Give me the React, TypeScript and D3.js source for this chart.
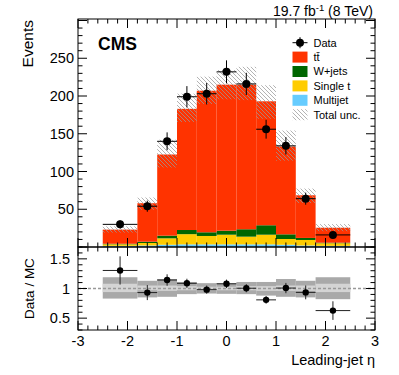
import React from "react";
import * as d3 from "d3";

// ---- data ----
const binEdges = [-2.5, -1.8, -1.4, -1.0, -0.6, -0.2, 0.2, 0.6, 1.0, 1.4, 1.8, 2.5];
const dataCounts = [30, 54, 140, 199, 203, 232, 216, 156, 134, 64, 16];
const multijet = [1.5, 2, 3, 3.5, 3.5, 3.5, 3.5, 3.5, 3, 2, 1.5];
const singleTop = [2.1, 3.3, 8.5, 13.5, 11.1, 12.8, 10.2, 12.8, 7.6, 7.3, 3.5];
const wJets = [0.7, 1.7, 3.5, 5.5, 4.9, 5.3, 9.8, 12.5, 6.2, 2.7, 0.7];
const ttbar = [18.7, 51, 107.5, 160.5, 187.5, 193.4, 191.5, 164.2, 116.2, 56.5, 19.8];
// relative total uncertainty (up / down) and inner (lighter) band
const uncUp = [0.19, 0.13, 0.16, 0.11, 0.09, 0.09, 0.11, 0.11, 0.16, 0.13, 0.19];
const uncDown = [0.17, 0.15, 0.14, 0.095, 0.085, 0.09, 0.095, 0.12, 0.14, 0.15, 0.18];
const innerUp = [0.08, 0.05, 0.05, 0.04, 0.03, 0.03, 0.04, 0.04, 0.05, 0.05, 0.08];
const innerDown = [0.06, 0.03, 0.04, 0.03, 0.03, 0.03, 0.03, 0.04, 0.04, 0.04, 0.06];

const xTickLabels = ["-3", "-2", "-1", "0", "1", "2", "3"];
const yTickLabels = ["50", "100", "150", "200", "250"];
const ratioTickLabels = ["0.5", "1", "1.5"];
const legendLabels = ["Data", "tt\u0304", "W+jets", "Single t", "Multijet", "Total unc."];

const COLORS: Record<string, string> = {
  multijet: "#66ccff",
  singleTop: "#ffcc00",
  wJets: "#006600",
  ttbar: "#ff3300",
};
const FONT = "'Liberation Sans', Arial, Helvetica, sans-serif";

export default function App() {
  const x = d3.scaleLinear().domain([-3, 3]).range([78, 375]);
  const y = d3.scaleLinear().domain([0, 302]).range([247, 19]);
  const yr = d3.scaleLinear().domain([0.3, 1.7]).range([330, 247]);

  const rows = binEdges.slice(0, -1).map((lo, i) => ({
    lo,
    hi: binEdges[i + 1],
    multijet: multijet[i],
    singleTop: singleTop[i],
    wJets: wJets[i],
    ttbar: ttbar[i],
  }));
  const keys = ["multijet", "singleTop", "wJets", "ttbar"];
  const stacked = d3.stack<any>().keys(keys)(rows);
  const mc = rows.map((r) => r.multijet + r.singleTop + r.wJets + r.ttbar);

  const L = 78, R = 375, T = 19, M = 247, B = 330;
  const maj = 9, mnr = 4.5;

  const xMinor = x.ticks(30);
  const xMajor = x.ticks(6);
  const yMinor = y.ticks(30).filter((v) => v <= 302);
  const yMajor = y.ticks(6).filter((v) => v > 0 && v < 300);
  const rMinor = yr.ticks(14);
  const rMajor = yr.ticks(3);

  const isMaj = (v: number) => Math.abs(v - Math.round(v)) < 1e-6;

  return (
    <svg
      width={399}
      height={375}
      style={{ position: "absolute", left: 0, top: 0, background: "#fff" }}
      fontFamily={FONT}
    >
      <defs>
        <pattern id="hatch" patternUnits="userSpaceOnUse" width={4} height={4}>
          <path d="M0,0 L4,4 M-1,3 L1,5 M3,-1 L5,1" stroke="#9a9a9a" strokeWidth={0.75} />
        </pattern>
        <clipPath id="clipRat">
          <rect x={L} y={M} width={R - L} height={B - M} />
        </clipPath>
      </defs>

      {/* ---- stacked histogram ---- */}
      <g>
        {stacked.map((layer) => (
          <g key={layer.key}>
            {layer.map((d, i) => (
              <rect
                key={i}
                x={x(rows[i].lo)}
                width={x(rows[i].hi) - x(rows[i].lo)}
                y={y(d[1])}
                height={Math.max(0, y(d[0]) - y(d[1]))}
                fill={COLORS[layer.key as string]}
              />
            ))}
          </g>
        ))}
        {/* total uncertainty band */}
        {rows.map((r, i) => (
          <rect
            key={"u" + i}
            x={x(r.lo)}
            width={x(r.hi) - x(r.lo)}
            y={y(mc[i] * (1 + uncUp[i]))}
            height={y(mc[i] * (1 - uncDown[i])) - y(mc[i] * (1 + uncUp[i]))}
            fill="url(#hatch)"
          />
        ))}
        {/* data */}
        {rows.map((r, i) => {
          const v = dataCounts[i];
          const e = Math.sqrt(v);
          const cx = x((r.lo + r.hi) / 2);
          return (
            <g key={"d" + i}>
              <line x1={x(r.lo)} x2={x(r.hi)} y1={y(v)} y2={y(v)} stroke="#000" strokeWidth={1} />
              <line x1={cx} x2={cx} y1={y(v + e)} y2={y(v - e)} stroke="#000" strokeWidth={1} />
              <circle cx={cx} cy={y(v)} r={4} fill="#000" />
            </g>
          );
        })}
      </g>

      {/* ---- ratio panel ---- */}
      <g clipPath="url(#clipRat)">
        {rows.map((r, i) => (
          <g key={"rb" + i}>
            <rect
              x={x(r.lo)}
              width={x(r.hi) - x(r.lo)}
              y={yr(1 + uncUp[i])}
              height={yr(1 - uncDown[i]) - yr(1 + uncUp[i])}
              fill="#a9a9a9"
            />
            <rect
              x={x(r.lo)}
              width={x(r.hi) - x(r.lo)}
              y={yr(1 + innerUp[i])}
              height={yr(1 - innerDown[i]) - yr(1 + innerUp[i])}
              fill="#d4d4d4"
            />
          </g>
        ))}
        <line x1={L} x2={R} y1={yr(1)} y2={yr(1)} stroke="#999" strokeWidth={1.3} strokeDasharray="3,2" />
        {rows.map((r, i) => {
          const rat = dataCounts[i] / mc[i];
          const e = Math.sqrt(dataCounts[i]) / mc[i];
          const cx = x((r.lo + r.hi) / 2);
          return (
            <g key={"rd" + i}>
              <line x1={x(r.lo)} x2={x(r.hi)} y1={yr(rat)} y2={yr(rat)} stroke="#222" strokeWidth={1} />
              <line x1={cx} x2={cx} y1={yr(rat + e)} y2={yr(rat - e)} stroke="#222" strokeWidth={1} />
              <circle cx={cx} cy={yr(rat)} r={3.2} fill="#000" />
            </g>
          );
        })}
      </g>

      {/* ---- frames and ticks ---- */}
      <g stroke="#000" strokeWidth={1} fill="none">
        <rect x={L} y={T} width={R - L} height={M - T} />
        <rect x={L} y={M} width={R - L} height={B - M} />
        {xMinor.map((v, i) => {
          const len = isMaj(v) ? maj : mnr;
          const xx = x(v);
          return (
            <g key={"xt" + i}>
              <line x1={xx} x2={xx} y1={T} y2={T + len} />
              <line x1={xx} x2={xx} y1={M} y2={M - len} />
              <line x1={xx} x2={xx} y1={M} y2={M + len} />
              <line x1={xx} x2={xx} y1={B} y2={B - len} />
            </g>
          );
        })}
        {yMinor.map((v, i) => {
          const len = v % 50 === 0 ? maj : mnr;
          const yy = y(v);
          return (
            <g key={"yt" + i}>
              <line x1={L} x2={L + len} y1={yy} y2={yy} />
              <line x1={R} x2={R - len} y1={yy} y2={yy} />
            </g>
          );
        })}
        {rMinor.map((v, i) => {
          const len = Math.abs(v * 2 - Math.round(v * 2)) < 1e-6 ? maj : mnr;
          const yy = yr(v);
          return (
            <g key={"rt" + i}>
              <line x1={L} x2={L + len} y1={yy} y2={yy} />
              <line x1={R} x2={R - len} y1={yy} y2={yy} />
            </g>
          );
        })}
      </g>

      {/* ---- tick labels ---- */}
      <g fontSize={14.5} fill="#000">
        {yMajor.map((v, i) => (
          <text key={"yl" + v} x={74} y={y(v)} dy="0.36em" textAnchor="end">
            {yTickLabels[i]}
          </text>
        ))}
        {rMajor.map((v, i) => (
          <text key={"rl" + v} x={70} y={yr(v)} dy="0.36em" textAnchor="end">
            {ratioTickLabels[i]}
          </text>
        ))}
        {xMajor.map((v, i) => (
          <text key={"xl" + v} x={x(v)} y={346} textAnchor="middle">
            {xTickLabels[i]}
          </text>
        ))}
      </g>

      {/* ---- titles ---- */}
      <text x={33} y={20} transform="rotate(-90 33 20)" textAnchor="end" fontSize={15.5}>
        Events
      </text>
      <text x={34} y={288.5} transform="rotate(-90 34 288.5)" textAnchor="middle" fontSize={13.5}>
        Data / MC
      </text>
      <text x={375} y={365} textAnchor="end" fontSize={14.5}>
        Leading-jet η
      </text>
      <text x={98} y={50} fontSize={17.5} fontWeight="bold">
        CMS
      </text>
      <text x={373} y={16} textAnchor="end" fontSize={14}>
        19.7 fb
        <tspan dy={-5} fontSize={9.5}>-1</tspan>
        <tspan dy={5}> (8 TeV)</tspan>
      </text>

      {/* ---- legend ---- */}
      <g fontSize={11}>
        {legendLabels.map((lab, i) => {
          const cy = 42.7 + i * 14.4;
          const bx = 292.5, bw = 15, bh = 11;
          let marker: React.ReactNode = null;
          if (i === 0) {
            marker = (
              <g>
                <line x1={bx} x2={bx + bw} y1={cy} y2={cy} stroke="#000" />
                <line x1={bx + bw / 2} x2={bx + bw / 2} y1={cy - 5.5} y2={cy + 5.5} stroke="#000" />
                <circle cx={bx + bw / 2} cy={cy} r={4} fill="#000" />
              </g>
            );
          } else if (i === 5) {
            marker = <rect x={bx} y={cy - bh / 2} width={bw} height={bh} fill="url(#hatch)" />;
          } else {
            const key = ["ttbar", "wJets", "singleTop", "multijet"][i - 1];
            marker = <rect x={bx} y={cy - bh / 2} width={bw} height={bh} fill={COLORS[key]} />;
          }
          return (
            <g key={"lg" + i}>
              {marker}
              <text x={313.5} y={cy} dy="0.36em">
                {lab}
              </text>
            </g>
          );
        })}
      </g>
    </svg>
  );
}
